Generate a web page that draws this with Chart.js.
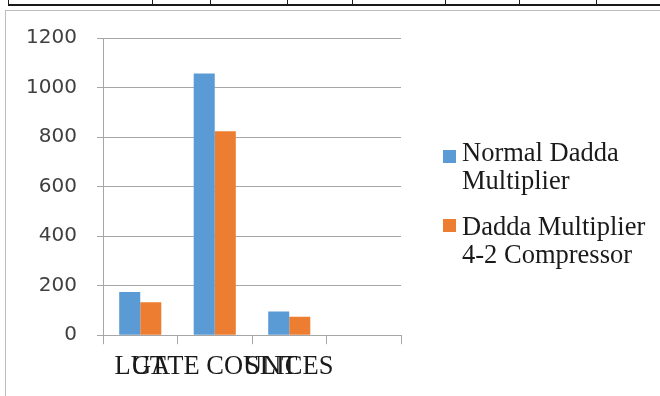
<!DOCTYPE html>
<html>
<head>
<meta charset="utf-8">
<script src="https://cdn.jsdelivr.net/npm/chart.js@4/dist/chart.umd.min.js"></script>
<style>
  html, body { margin: 0; padding: 0; background: #fff; }
  #page { position: relative; width: 660px; height: 396px; overflow: hidden; background: #fff; }
  .rule-h { position: absolute; left: 8px; top: 4px; width: 660px; height: 2px; background: #1a1a1a; }
  .rule-v { position: absolute; top: 0; width: 1px; height: 5px; background: #1a1a1a; }
  #frame { position: absolute; left: 5px; top: 10px; width: 700px; height: 420px; border: 1px solid #bdbdbd; box-sizing: border-box; }
  #chartBox { position: absolute; left: 0; top: 0; width: 660px; height: 396px; }
  #legend { position: absolute; left: 443px; top: 0; font-family: "Liberation Serif", "Times New Roman", serif; font-size: 26.5px; line-height: 28px; color: #1a1a1a; }
  .item { position: absolute; left: 0; white-space: nowrap; }
  .swatch { position: absolute; left: 0; width: 13px; height: 13px; }
  .label { position: absolute; left: 19px; top: 0; }
</style>
</head>
<body>
<div id="page">
  <div class="rule-h"></div>
  <div id="frame"></div>
  <div id="chartBox"><canvas id="chart" width="660" height="396"></canvas></div>
  <div id="legend"></div>
</div>
<script>
// Resource usage per metric for the two multiplier designs
const categories = ['LUT', 'GATE COUNT', 'SLICES', ''];
const seriesNames = [['Normal Dadda', 'Multiplier'], ['Dadda Multiplier', '4-2 Compressor']];
const normalDadda = [174, 1057, 96, null];
const dadda42 = [133, 823, 74, null];
const yTicks = [0, 200, 400, 600, 800, 1000, 1200];
const seriesColors = ['#5B9BD5', '#ED7D31'];

// separators of the table row above the chart
[8, 152, 210, 287, 352, 445, 519, 596].forEach(x => {
  const d = document.createElement('div');
  d.className = 'rule-v';
  d.style.left = x + 'px';
  document.getElementById('page').appendChild(d);
});

const axisGray = '#a6a6a6';

new Chart(document.getElementById('chart'), {
  type: 'bar',
  data: {
    labels: categories,
    datasets: [
      { label: seriesNames[0].join(' '), data: normalDadda, backgroundColor: seriesColors[0] },
      { label: seriesNames[1].join(' '), data: dadda42, backgroundColor: seriesColors[1] }
    ]
  },
  options: {
    responsive: false,
    animation: false,
    devicePixelRatio: 1,
    layout: { padding: { left: 25, right: 259, top: 38, bottom: 6 } },
    datasets: { bar: { categoryPercentage: 0.565, barPercentage: 1 } },
    plugins: { legend: { display: false }, tooltip: { enabled: false } },
    scales: {
      x: {
        afterFit: axis => { axis.paddingLeft = 0; axis.paddingRight = 0; },
        grid: { drawOnChartArea: false, drawTicks: true, tickLength: 9, color: axisGray, offset: true },
        border: { color: axisGray, width: 1 },
        ticks: {
          autoSkip: false, maxRotation: 0, minRotation: 0, padding: 7,
          color: '#1a1a1a',
          font: { family: '"Liberation Serif", "Times New Roman", serif', size: 26.5 }
        }
      },
      y: {
        min: 0, max: 1200,
        afterBuildTicks: axis => { axis.ticks = yTicks.map(v => ({ value: v })); },
        afterFit: axis => { axis.width = 78; },
        grid: { color: axisGray, tickLength: 6, drawTicks: true },
        border: { color: axisGray, width: 1 },
        ticks: {
          padding: 20,
          color: '#404040',
          callback: v => String(v),
          font: { family: '"DejaVu Sans", sans-serif', size: 20 }
        }
      }
    }
  }
});

// legend: swatch plus two-line series name
const legend = document.getElementById('legend');
const itemTops = [138, 212];
const swatchOffsets = [12, 7];
seriesNames.forEach((lines, i) => {
  const item = document.createElement('div');
  item.className = 'item';
  item.style.top = itemTops[i] + 'px';
  const sw = document.createElement('div');
  sw.className = 'swatch';
  sw.style.background = seriesColors[i];
  sw.style.top = swatchOffsets[i] + 'px';
  const lab = document.createElement('div');
  lab.className = 'label';
  lab.innerHTML = lines.join('<br>');
  item.appendChild(sw);
  item.appendChild(lab);
  legend.appendChild(item);
});
</script>
</body>
</html>
